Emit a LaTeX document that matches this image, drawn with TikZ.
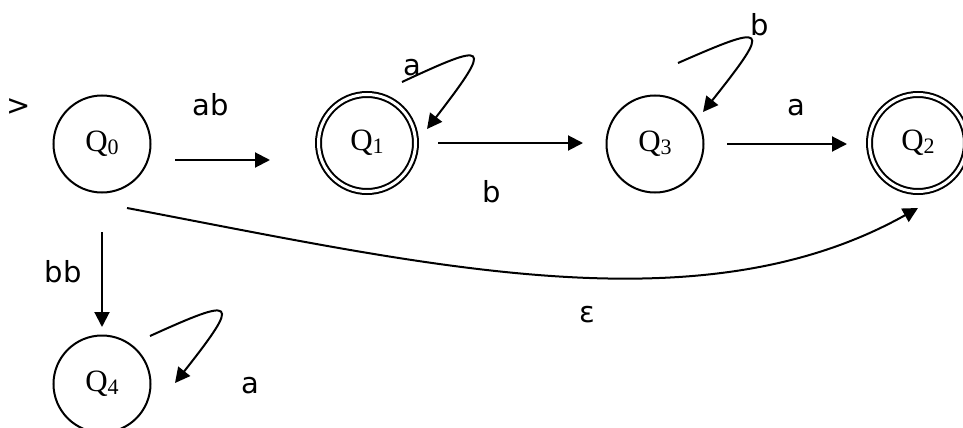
\documentclass[tikz,border=0pt]{standalone}
\usepackage{fontspec}
\setmainfont{Liberation Serif}
\newfontfamily\labfont{DejaVu Sans}
\usetikzlibrary{calc,arrows.meta}

\newcommand{\qsub}[1]{\fontsize{31}{31}\selectfont Q\raisebox{-3pt}{\fontsize{22}{22}\selectfont #1}}

\begin{document}
\begin{tikzpicture}[x=1pt, y=-1pt, >={Triangle[length=15pt,width=15pt]}, line width=2pt,
  state/.style={circle, draw, minimum size=97pt, inner sep=0pt, outer sep=0pt},
  accept/.style={state, double, double distance=3pt},
  lab/.style={font=\labfont\fontsize{29}{29}\selectfont, anchor=base, inner sep=0pt}]
  \useasboundingbox (0,0) rectangle (963,428);
  \node[state] (Q0) at (102,144) {\qsub{0}};
  \node[accept] (Q1) at (367,143) {\qsub{1}};
  \node[state] (Q3) at (655,144) {\qsub{3}};
  \node[accept] (Q2) at (918,143) {\qsub{2}};
  \node[state] (Q4) at (102,384) {\qsub{4}};
  \node[lab] (init) at (19,115) {>};
  \draw[->] ($(Q0)+(73,16)$) -- ($(Q1)+(-97,17)$);
  \node[lab] (tab) at (211,115) {ab};
  \draw[->] ($(Q1)+(71,0)$) -- ($(Q3)+(-72,-1)$);
  \node[lab] (tb) at (492,202) {b};
  \draw[->] ($(Q3)+(72,0)$) -- ($(Q2)+(-71,1)$);
  \node[lab] (ta) at (796,115) {a};
  \draw[->] ($(Q0)+(0,88)$) -- ($(Q4)+(0,-57)$);
  \node[lab] (tbb) at (63,282) {bb};
  \draw[->] ($(Q1)+(35,-61)$) .. controls (488,42) and (494,42) .. ($(Q1)+(60,-14)$);
  \node[lab] (tloopa) at (412,75) {a};
  \draw[->] ($(Q3)+(23,-81)$) .. controls (767,24) and (773,24) .. ($(Q3)+(48,-32)$);
  \node[lab] (tloopb) at (760,36) {b};
  \draw[->] ($(Q4)+(48,-48)$) .. controls (236,297) and (242,298) .. ($(Q4)+(73,-1)$);
  \node[lab] (tloopc) at (250,393) {a};
  \draw[->] ($(Q0)+(25,64)$) .. controls (427,265) and (700,330) .. ($(Q2)+(0,65)$);
  \node[lab] (teps) at (587,322) {ε};
\end{tikzpicture}
\end{document}
